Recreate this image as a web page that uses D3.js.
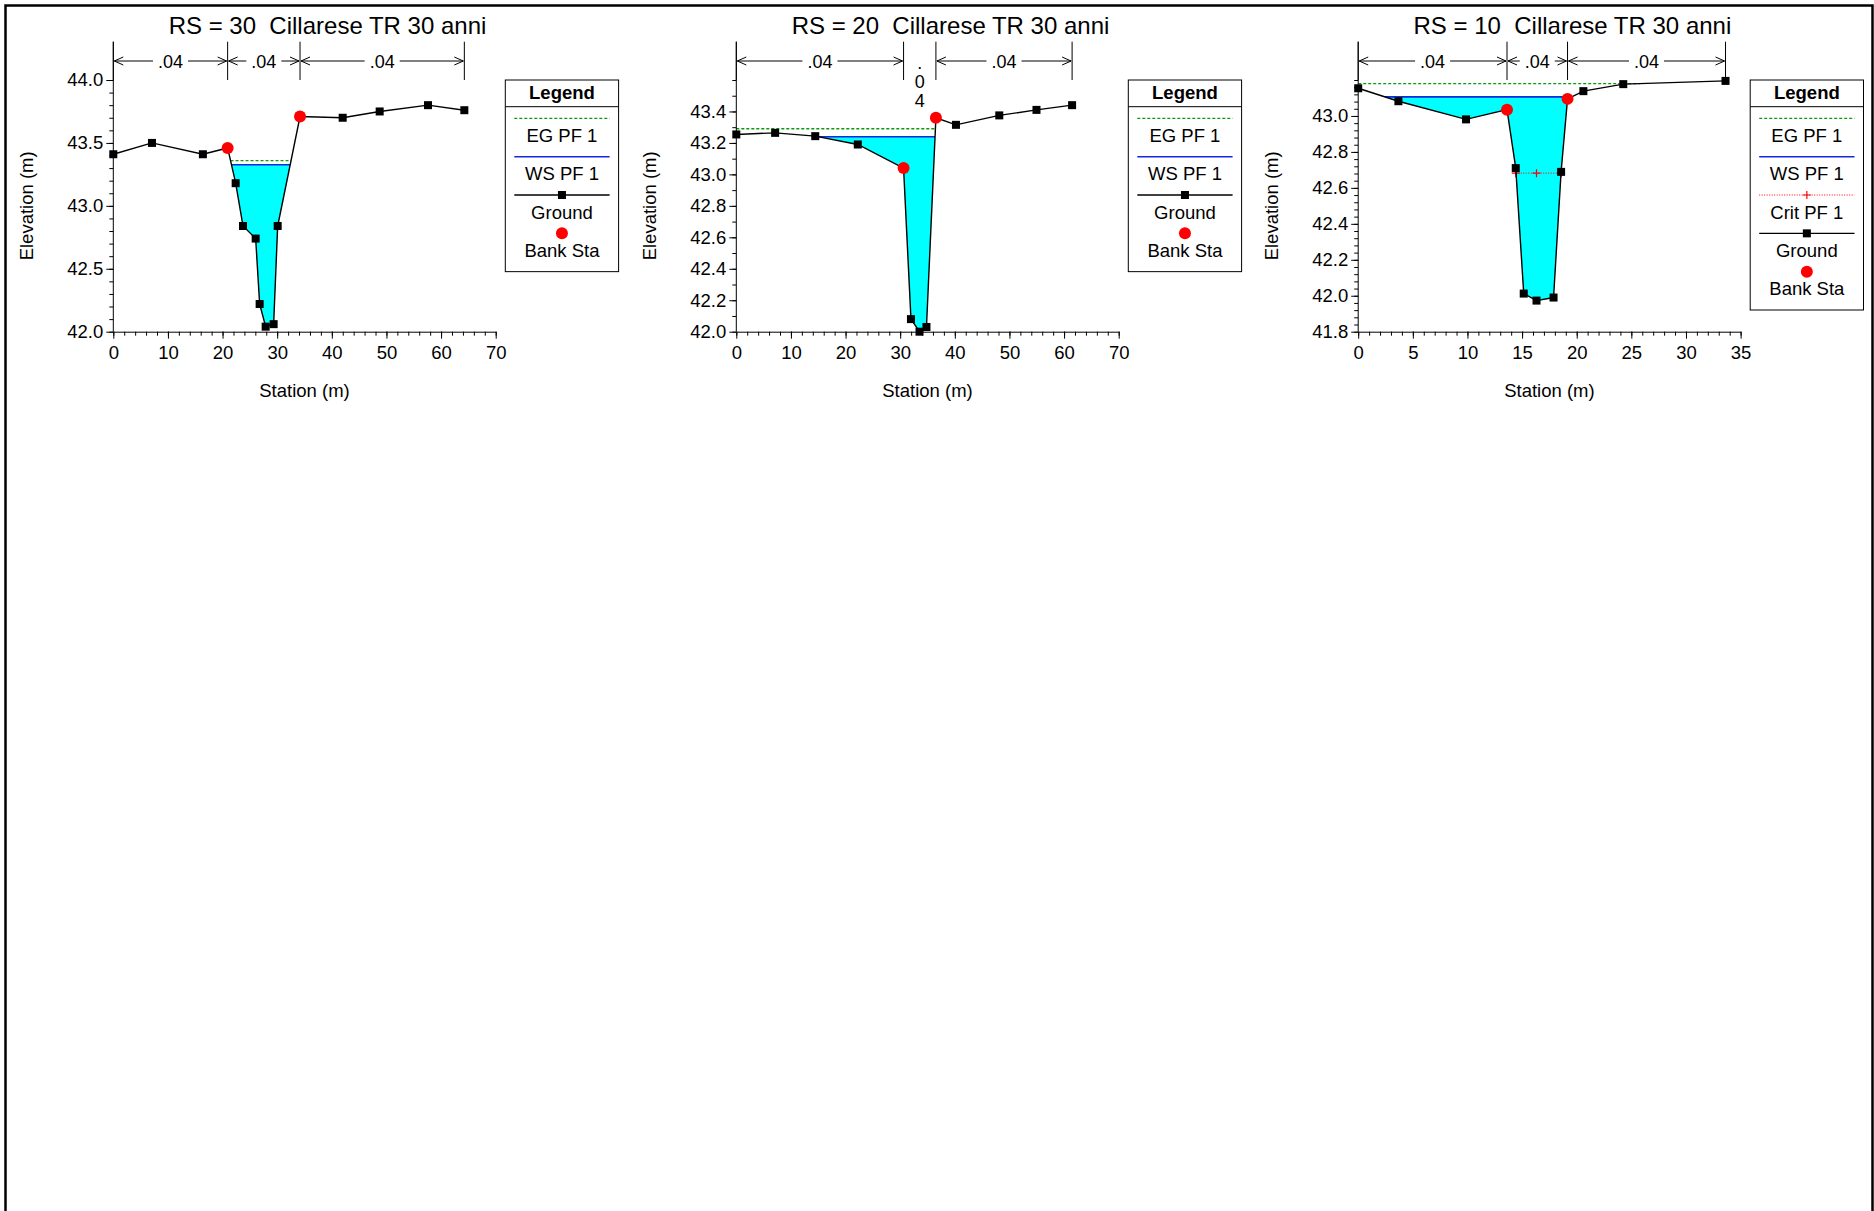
<!DOCTYPE html>
<html>
<head>
<meta charset="utf-8">
<script src="https://cdn.jsdelivr.net/npm/d3@7"></script>
<style>
  body { margin: 0; background: #fff; }
  svg { display: block; font-family: "Liberation Sans", Arial, sans-serif; }
  text { white-space: pre; }
</style>
</head>
<body>
<div id="chart"></div>
<script>
// cross sections
const titles = ["RS = 30  Cillarese TR 30 anni", "RS = 20  Cillarese TR 30 anni", "RS = 10  Cillarese TR 30 anni"];

const sta30 = [0, 7.08, 16.4, 20.93, 22.4, 23.74, 26.06, 26.79, 27.89, 29.35, 30.09, 34.18, 41.99, 48.76, 57.61, 64.26];
const elev30 = [43.41, 43.50, 43.41, 43.46, 43.18, 42.84, 42.74, 42.22, 42.04, 42.06, 42.84, 43.71, 43.70, 43.75, 43.80, 43.76];
const banks30 = [20.93, 34.18];
const nBounds30 = [0, 20.93, 34.18, 64.26];
const nVals30 = [".04", ".04", ".04"];
const ws30 = 43.327, eg30 = 43.359;

const sta20 = [0, 7.11, 14.45, 22.24, 30.62, 31.97, 33.54, 34.81, 36.54, 40.21, 48.14, 54.95, 61.47];
const elev20 = [43.254, 43.264, 43.243, 43.19, 43.04, 42.08, 42.00, 42.03, 43.36, 43.315, 43.375, 43.41, 43.44];
const banks20 = [30.62, 36.54];
const nBounds20 = [0, 30.62, 36.54, 61.47];
const nVals20 = [".04", ".04", ".04"];
const ws20 = 43.239, eg20 = 43.29;

const sta10 = [0, 3.68, 9.87, 13.62, 14.42, 15.15, 16.32, 17.88, 18.57, 19.16, 20.61, 24.26, 33.62];
const elev10 = [43.154, 43.082, 42.981, 43.035, 42.71, 42.012, 41.973, 41.99, 42.689, 43.095, 43.138, 43.177, 43.195];
const banks10 = [13.62, 19.16];
const nBounds10 = [0, 13.62, 19.16, 33.62];
const nVals10 = [".04", ".04", ".04"];
const ws10 = 43.106, eg10 = 43.18;
const crit10 = 42.682;
const critSta10 = [14.42, 16.32, 18.57];

// axes
const xDomains = [[0, 70], [0, 70], [0, 35]];
const xTicks = [[0, 10, 20, 30, 40, 50, 60, 70], [0, 10, 20, 30, 40, 50, 60, 70], [0, 5, 10, 15, 20, 25, 30, 35]];
const xMinorStep = [2, 2, 1];
const yDomains = [[42, 44], [42, 43.6], [41.8, 43.2]];
const yTicks = [[42.0, 42.5, 43.0, 43.5, 44.0], [42.0, 42.2, 42.4, 42.6, 42.8, 43.0, 43.2, 43.4], [41.8, 42.0, 42.2, 42.4, 42.6, 42.8, 43.0]];
const yMinorStep = [0.1, 0.1, 0.04];

const legend12 = ["EG PF 1", "WS PF 1", "Ground", "Bank Sta"];
const legend3 = ["EG PF 1", "WS PF 1", "Crit PF 1", "Ground", "Bank Sta"];

const panels = [
  { title: titles[0], sta: sta30, elev: elev30, banks: banks30, nB: nBounds30, nV: nVals30, ws: ws30, eg: eg30, legend: legend12 },
  { title: titles[1], sta: sta20, elev: elev20, banks: banks20, nB: nBounds20, nV: nVals20, ws: ws20, eg: eg20, legend: legend12 },
  { title: titles[2], sta: sta10, elev: elev10, banks: banks10, nB: nBounds10, nV: nVals10, ws: ws10, eg: eg10, legend: legend3, crit: crit10, critSta: critSta10 }
];

// layout
const W = 1874, H = 1211;
const panelLeft = [113.3, 736.3, 1358.2];
const plotW = 382.4, plotTop = 80, plotBottom = 331.7, bandTop = 41.7;
const EG_COL = "#0c9a0c", WS_COL = "#1428e0", FILL = "#00ffff";

const svg = d3.select("#chart").append("svg").attr("width", W).attr("height", H);

// outer frame (runs off the bottom like the original)
svg.append("path")
  .attr("d", `M5.5,${H + 5}V5.5H1872.5V${H + 5}`)
  .attr("fill", "none").attr("stroke", "#000").attr("stroke-width", 2.5);

// insert the points where the ground crosses a level
function crossProfile(sta, elev, level) {
  let pts = [];
  for (let k = 0; k < sta.length; k++) {
    if (k > 0) {
      let e0 = elev[k - 1], e1 = elev[k];
      if ((e0 - level) * (e1 - level) < 0) {
        let t = (level - e0) / (e1 - e0);
        pts.push([sta[k - 1] + t * (sta[k] - sta[k - 1]), level]);
      }
    }
    pts.push([sta[k], elev[k]]);
  }
  return pts;
}

function wetExtent(pts, level) {
  let wet = pts.filter(d => d[1] <= level + 1e-9);
  return [d3.min(wet, d => d[0]), d3.max(wet, d => d[0])];
}

panels.forEach((p, i) => {
  const x0 = panelLeft[i];
  const x = d3.scaleLinear().domain(xDomains[i]).range([x0, x0 + plotW]);
  const y = d3.scaleLinear().domain(yDomains[i]).range([plotBottom, plotTop]);
  const g = svg.append("g");

  // title
  g.append("text")
    .attr("x", x0 + plotW / 2 + 23).attr("y", 34)
    .attr("text-anchor", "middle").attr("font-size", 24)
    .text(p.title);

  // water fill under WS
  const wsPts = crossProfile(p.sta, p.elev, p.ws);
  const wsExt = wetExtent(wsPts, p.ws);
  const inside = wsPts.filter(d => d[0] >= wsExt[0] - 1e-9 && d[0] <= wsExt[1] + 1e-9);
  g.append("path")
    .datum(inside)
    .attr("fill", FILL)
    .attr("d", d3.area()
      .x(d => x(d[0]))
      .y0(y(p.ws))
      .y1(d => y(Math.min(d[1], p.ws))));

  // EG line
  const egExt = wetExtent(crossProfile(p.sta, p.elev, p.eg), p.eg);
  g.append("line")
    .attr("x1", x(egExt[0])).attr("x2", x(egExt[1]))
    .attr("y1", y(p.eg)).attr("y2", y(p.eg))
    .attr("stroke", EG_COL).attr("stroke-width", 1.4).attr("stroke-dasharray", "3,2");

  // WS line
  g.append("line")
    .attr("x1", x(wsExt[0])).attr("x2", x(wsExt[1]))
    .attr("y1", y(p.ws)).attr("y2", y(p.ws))
    .attr("stroke", WS_COL).attr("stroke-width", 1.6);

  // critical depth
  if (p.crit !== undefined) {
    g.append("line")
      .attr("x1", x(d3.min(p.critSta))).attr("x2", x(d3.max(p.critSta)))
      .attr("y1", y(p.crit)).attr("y2", y(p.crit))
      .attr("stroke", "#ff0000").attr("stroke-width", 1).attr("stroke-dasharray", "1,1.5");
    g.selectAll(".crit").data(p.critSta).enter().append("path")
      .attr("d", d => `M${x(d) - 4},${y(p.crit)}H${x(d) + 4}M${x(d)},${y(p.crit) - 4}V${y(p.crit) + 4}`)
      .attr("stroke", "#ff0000").attr("stroke-width", 1.2);
  }

  // ground
  const ground = p.sta.map((s, k) => [s, p.elev[k]]);
  g.append("path")
    .datum(ground)
    .attr("fill", "none").attr("stroke", "#000").attr("stroke-width", 1.4)
    .attr("d", d3.line().x(d => x(d[0])).y(d => y(d[1])));
  g.selectAll(".gpt").data(ground).enter().append("rect")
    .attr("x", d => x(d[0]) - 4).attr("y", d => y(d[1]) - 4)
    .attr("width", 8).attr("height", 8).attr("fill", "#000");

  // bank stations
  g.selectAll(".bank").data(p.banks).enter().append("circle")
    .attr("cx", d => x(d))
    .attr("cy", d => y(p.elev[p.sta.indexOf(d)]))
    .attr("r", 6).attr("fill", "#ff0000");

  // axes
  const xAx = g.append("g").attr("transform", `translate(0,${plotBottom})`)
    .call(d3.axisBottom(x).tickValues(xTicks[i]).tickSize(7).tickSizeOuter(0).tickPadding(7).tickFormat(d3.format("d")));
  g.append("g").attr("transform", `translate(0,${plotBottom})`)
    .call(d3.axisBottom(x).tickValues(d3.range(xDomains[i][0], xDomains[i][1] + 1e-9, xMinorStep[i])).tickSize(4).tickFormat(""))
    .call(a => a.select(".domain").remove());
  const yAx = g.append("g").attr("transform", `translate(${x0},0)`)
    .call(d3.axisLeft(y).tickValues(yTicks[i]).tickSize(7).tickPadding(3).tickFormat(d3.format(".1f")))
    .call(a => a.select(".domain").remove());
  g.append("g").attr("transform", `translate(${x0},0)`)
    .call(d3.axisLeft(y).tickValues(d3.range(yDomains[i][0], yDomains[i][1] + 1e-9, yMinorStep[i])).tickSize(4).tickFormat(""))
    .call(a => a.select(".domain").remove());
  [xAx, yAx].forEach(a => a.selectAll("text")
    .attr("font-size", 18.5).attr("fill", "#000")
    .attr("font-family", '"Liberation Sans", Arial, sans-serif'));
  g.selectAll(".tick line").attr("stroke", "#000");
  g.selectAll(".domain").attr("stroke", "#000");
  g.append("line")
    .attr("x1", x0).attr("x2", x0).attr("y1", bandTop).attr("y2", plotBottom)
    .attr("stroke", "#000");

  g.append("text")
    .attr("x", x0 + plotW / 2).attr("y", 397)
    .attr("text-anchor", "middle").attr("font-size", 18.5)
    .text("Station (m)");
  g.append("text")
    .attr("transform", `translate(${x0 - 80},${(plotTop + plotBottom) / 2}) rotate(-90)`)
    .attr("text-anchor", "middle").attr("font-size", 18.5)
    .text("Elevation (m)");

  // Manning's n band
  const arrowY = 61;
  p.nB.forEach(b => {
    g.append("line")
      .attr("x1", x(b)).attr("x2", x(b)).attr("y1", bandTop).attr("y2", plotTop)
      .attr("stroke", "#000");
  });
  p.nV.forEach((v, k) => {
    const xa = x(p.nB[k]), xb = x(p.nB[k + 1]), xm = (xa + xb) / 2;
    if (xb - xa > 45) {
      const t = g.append("text")
        .attr("x", xm).attr("y", arrowY + 6.5)
        .attr("text-anchor", "middle").attr("font-size", 18)
        .text(v);
      const tw = t.node().getComputedTextLength();
      g.append("path")
        .attr("d", `M${xa + 1},${arrowY}H${xm - tw / 2 - 5}M${xm + tw / 2 + 5},${arrowY}H${xb - 1}` +
          `M${xa + 10},${arrowY - 4}L${xa + 1},${arrowY}L${xa + 10},${arrowY + 4}` +
          `M${xb - 10},${arrowY - 4}L${xb - 1},${arrowY}L${xb - 10},${arrowY + 4}`)
        .attr("fill", "none").attr("stroke", "#000").attr("stroke-width", 1);
    } else {
      v.split("").forEach((c, j) => {
        g.append("text")
          .attr("x", xm).attr("y", 68.5 + j * 19)
          .attr("text-anchor", "middle").attr("font-size", 18)
          .text(c);
      });
    }
  });

  // legend
  const lx = x0 + 392, lw = 113.3;
  const items = p.legend;
  const lh = 17.3 + (items.length - 1) * 38.35 + 38.3 + 21;
  const lg = g.append("g");
  lg.append("rect")
    .attr("x", lx).attr("y", plotTop).attr("width", lw).attr("height", lh)
    .attr("fill", "#fff").attr("stroke", "#000").attr("stroke-width", 1);
  lg.append("line")
    .attr("x1", lx).attr("x2", lx + lw).attr("y1", plotTop + 26.7).attr("y2", plotTop + 26.7)
    .attr("stroke", "#000");
  lg.append("text")
    .attr("x", lx + lw / 2).attr("y", plotTop + 18.5)
    .attr("text-anchor", "middle").attr("font-size", 18.5).attr("font-weight", "bold")
    .text("Legend");
  items.forEach((name, k) => {
    const sy = plotTop + 38.3 + k * 38.35;
    const l1 = lx + 9, l2 = lx + lw - 9, cx = lx + lw / 2;
    if (name.startsWith("EG")) {
      lg.append("line").attr("x1", l1).attr("x2", l2).attr("y1", sy).attr("y2", sy)
        .attr("stroke", EG_COL).attr("stroke-width", 1.3).attr("stroke-dasharray", "3,2");
    } else if (name.startsWith("WS")) {
      lg.append("line").attr("x1", l1).attr("x2", l2).attr("y1", sy).attr("y2", sy)
        .attr("stroke", WS_COL).attr("stroke-width", 1.5);
    } else if (name.startsWith("Crit")) {
      lg.append("line").attr("x1", l1).attr("x2", l2).attr("y1", sy).attr("y2", sy)
        .attr("stroke", "#ff0000").attr("stroke-width", 1).attr("stroke-dasharray", "1,1.5");
      lg.append("path").attr("d", `M${cx - 4},${sy}H${cx + 4}M${cx},${sy - 4}V${sy + 4}`)
        .attr("stroke", "#ff0000").attr("stroke-width", 1.2);
    } else if (name === "Ground") {
      lg.append("line").attr("x1", l1).attr("x2", l2).attr("y1", sy).attr("y2", sy)
        .attr("stroke", "#000").attr("stroke-width", 1.3);
      lg.append("rect").attr("x", cx - 4).attr("y", sy - 4).attr("width", 8).attr("height", 8).attr("fill", "#000");
    } else {
      lg.append("circle").attr("cx", cx).attr("cy", sy).attr("r", 6).attr("fill", "#ff0000");
    }
    lg.append("text")
      .attr("x", cx).attr("y", sy + 17.3).attr("dy", "0.35em")
      .attr("text-anchor", "middle").attr("font-size", 18.5)
      .text(name);
  });
});
</script>
</body>
</html>
